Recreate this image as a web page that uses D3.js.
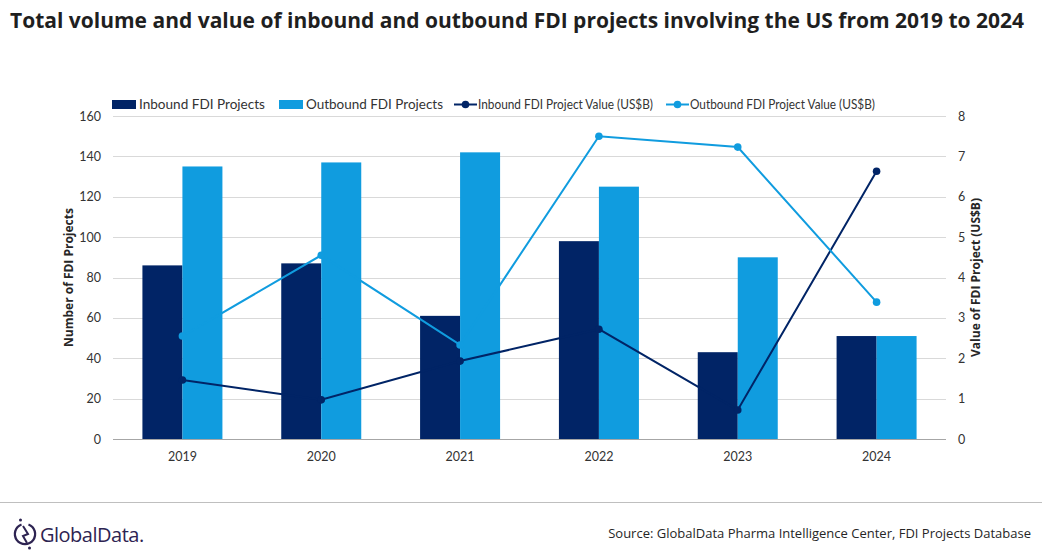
<!DOCTYPE html>
<head>
<meta charset="utf-8">
<style>
body { margin: 0; background: #fff; font-family: "Open Sans", "Noto Sans", Arial, sans-serif; }
.grid line { stroke: #d9d9d9; stroke-width: 1; shape-rendering: crispEdges; }
.grid path { stroke-width: 0; }
.axis text { font-family: Lato, "Open Sans", sans-serif; font-size: 12.5px; fill: #333; }
.axis line { stroke: none; }
.axis path { stroke: none; }
.legend text { font-family: Lato, "Open Sans", sans-serif; font-size: 13.5px; fill: #333; }
</style>
</head>
<body>
<script src="https://cdn.jsdelivr.net/npm/d3@7"></script>
<script>

// data
var years = ["2019", "2020", "2021", "2022", "2023", "2024"];
var inboundProjects = [86, 87, 61, 98, 43, 51];
var outboundProjects = [135, 137, 142, 125, 90, 51];
var inboundValue = [1.46, 0.97, 1.93, 2.72, 0.72, 6.63];
var outboundValue = [2.55, 4.55, 2.33, 7.5, 7.23, 3.39];
var leftTicks = [0, 20, 40, 60, 80, 100, 120, 140, 160];
var rightTicks = [0, 1, 2, 3, 4, 5, 6, 7, 8];
var seriesNames = ["Inbound FDI Projects", "Outbound FDI Projects",
    "Inbound FDI Project Value (US$B)", "Outbound FDI Project Value (US$B)"];

var darkBlue = "#012466",
    lightBlue = "#109cdf";

var W = 1042, H = 554;
var margin = {top: 116, right: 96, bottom: 115, left: 113},
    width = W - margin.left - margin.right,
    height = H - margin.top - margin.bottom;

var svg = d3.select("body").append("svg")
    .attr("width", W)
    .attr("height", H);

// title
svg.append("text")
    .attr("x", 10)
    .attr("y", 28)
    .style("font-size", "21px")
    .style("font-weight", "bold")
    .style("fill", "#1f1f1f")
    .text("Total volume and value of inbound and outbound FDI projects involving the US from 2019 to 2024");

var g = svg.append("g")
    .attr("transform", "translate(" + margin.left + "," + margin.top + ")");

// scales
var x = d3.scaleBand().domain(years).range([0, width]);
var yL = d3.scaleLinear().domain([0, 160]).range([height, 0]);
var yR = d3.scaleLinear().domain([0, 8]).range([height, 0]);
var barW = 40;

// gridlines
g.append("g")
    .attr("class", "grid")
    .call(d3.axisLeft(yL).tickValues(leftTicks).tickSize(-width).tickFormat(""));

// bars
g.selectAll(".inb").data(inboundProjects).enter().append("rect")
    .attr("x", function(d, i) { return x(years[i]) + x.bandwidth() / 2 - barW; })
    .attr("y", function(d) { return yL(d); })
    .attr("width", barW)
    .attr("height", function(d) { return height - yL(d); })
    .style("fill", darkBlue);

g.selectAll(".outb").data(outboundProjects).enter().append("rect")
    .attr("x", function(d, i) { return x(years[i]) + x.bandwidth() / 2; })
    .attr("y", function(d) { return yL(d); })
    .attr("width", barW)
    .attr("height", function(d) { return height - yL(d); })
    .style("fill", lightBlue);

// baseline
g.append("line")
    .attr("x1", 0).attr("x2", width)
    .attr("y1", height).attr("y2", height)
    .style("stroke", "#a6a6a6")
    .style("stroke-width", 1)
    .style("shape-rendering", "crispEdges");

// lines
var cx = function(i) { return x(years[i]) + x.bandwidth() / 2; };
var valueLine = d3.line()
    .x(function(d, i) { return cx(i); })
    .y(function(d) { return yR(d); });

[[inboundValue, darkBlue], [outboundValue, lightBlue]].forEach(function(s) {
    g.append("path")
        .attr("d", valueLine(s[0]))
        .style("fill", "none")
        .style("stroke", s[1])
        .style("stroke-width", 2);
    g.selectAll(null).data(s[0]).enter().append("circle")
        .attr("cx", function(d, i) { return cx(i); })
        .attr("cy", function(d) { return yR(d); })
        .attr("r", 3.8)
        .style("fill", s[1]);
});

// axes
g.append("g")
    .attr("class", "axis")
    .attr("transform", "translate(0," + height + ")")
    .call(d3.axisBottom(x).tickSize(0).tickPadding(13));

g.append("g")
    .attr("class", "axis")
    .call(d3.axisLeft(yL).tickValues(leftTicks).tickSize(0).tickPadding(12));

g.append("g")
    .attr("class", "axis")
    .attr("transform", "translate(" + width + ",0)")
    .call(d3.axisRight(yR).tickValues(rightTicks).tickSize(0).tickPadding(12));

// axis titles
svg.append("text")
    .attr("transform", "translate(73," + (margin.top + height / 2) + ") rotate(-90)")
    .attr("text-anchor", "middle")
    .style("font-size", "12px")
    .style("font-weight", "bold")
    .style("fill", "#262626")
    .text("Number of FDI Projects");

svg.append("text")
    .attr("transform", "translate(980," + (margin.top + height / 2) + ") rotate(-90)")
    .attr("text-anchor", "middle")
    .style("font-size", "12px")
    .style("font-weight", "bold")
    .style("fill", "#262626")
    .text("Value of FDI Project (US$B)");

// legend (x = marker start, tx/tw = label start and width, as measured)
var legend = svg.append("g").attr("class", "legend");
var legItems = [
    {color: darkBlue, type: "bar", x: 112, tx: 139, tw: 126},
    {color: lightBlue, type: "bar", x: 279, tx: 306, tw: 137},
    {color: darkBlue, type: "line", x: 454, tx: 478, tw: 175},
    {color: lightBlue, type: "line", x: 666, tx: 690, tw: 185}
];
legItems.forEach(function(d, i) {
    if (d.type == "bar") {
        legend.append("rect")
            .attr("x", d.x).attr("y", 100)
            .attr("width", 24).attr("height", 9)
            .style("fill", d.color);
    } else {
        legend.append("line")
            .attr("x1", d.x).attr("x2", d.x + 23)
            .attr("y1", 104.5).attr("y2", 104.5)
            .style("stroke", d.color).style("stroke-width", 2);
        legend.append("circle")
            .attr("cx", d.x + 11.5).attr("cy", 104.5).attr("r", 3.8)
            .style("fill", d.color);
    }
    legend.append("text")
        .attr("x", d.tx)
        .attr("y", 109)
        .attr("textLength", d.tw)
        .attr("lengthAdjust", "spacingAndGlyphs")
        .text(seriesNames[i]);
});

// footer
svg.append("line")
    .attr("x1", 0).attr("x2", W)
    .attr("y1", 502.5).attr("y2", 502.5)
    .style("stroke", "#bfbfbf").style("stroke-width", 1);

svg.append("text")
    .attr("x", 1031)
    .attr("y", 538)
    .attr("text-anchor", "end")
    .style("font-size", "13px")
    .style("fill", "#262626")
    .text("Source: GlobalData Pharma Intelligence Center, FDI Projects Database");

// logo
var logo = svg.append("g").attr("transform", "translate(25,534)");
logo.append("path")
    .attr("d", d3.arc()({innerRadius: 9, outerRadius: 11.3, startAngle: 0.35, endAngle: Math.PI * 2 - 0.35}))
    .style("fill", "#2e2452");
logo.append("path")
    .attr("d", "M-2,-8 L3,0 L-2,2 L2,9")
    .style("fill", "none")
    .style("stroke", "#2e2452")
    .style("stroke-width", 2);
logo.append("circle").attr("cx", -4.5).attr("cy", -14).attr("r", 1.5).style("fill", "#2e2452");
logo.append("circle").attr("cx", 4.5).attr("cy", 14).attr("r", 1.5).style("fill", "#2e2452");
svg.append("text")
    .attr("x", 40)
    .attr("y", 542)
    .style("font-size", "20px")
    .style("letter-spacing", "-0.5px")
    .style("fill", "#2e2452")
    .text("GlobalData.");

</script>
</body>
